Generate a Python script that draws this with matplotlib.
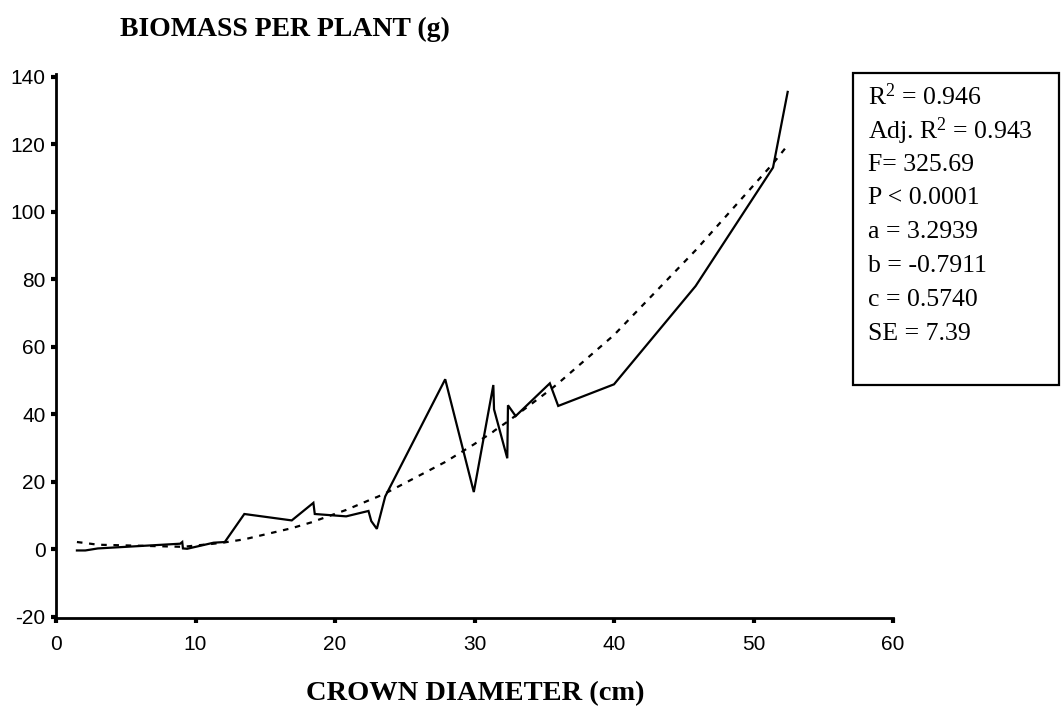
import matplotlib
matplotlib.use('Agg')
import matplotlib.pyplot as plt
from matplotlib.patches import Rectangle

diameter = [1.5, 2.1, 3.0, 8.9, 9.05, 9.1, 9.4, 11.3, 12.1, 13.5, 16.9, 18.45,
            18.55, 20.8, 22.4, 22.6, 23.0, 23.6, 27.9, 29.95, 31.35, 31.4,
            32.35, 32.4, 32.95, 35.4, 36.0, 40.0, 45.85, 51.4, 52.45]
biomass = [-0.3, -0.3, 0.3, 1.7, 2.2, 0.3, 0.2, 2.0, 2.2, 10.5, 8.6, 13.8,
           10.5, 9.8, 11.4, 8.4, 6.1, 15.7, 50.4, 17.0, 48.7, 41.5,
           27.0, 42.7, 39.5, 49.2, 42.5, 48.9, 78.0, 113.1, 135.5]
# fitted values (dashed line)
fitted = [2.2, 1.9, 1.4, 0.8, 0.8, 0.8, 0.9, 1.7, 2.1, 3.0, 6.3, 8.2,
          8.4, 11.7, 14.5, 14.9, 15.5, 16.6, 25.9, 31.1, 34.9, 35.1,
          37.8, 38.0, 39.6, 47.2, 49.2, 63.5, 88.6, 114.3, 119.7]

x_ticks = [0, 10, 20, 30, 40, 50, 60]
y_ticks = [-20, 0, 20, 40, 60, 80, 100, 120, 140]

stats = [r'R$^{\mathregular{2}}$ = 0.946',
         r'Adj. R$^{\mathregular{2}}$ = 0.943',
         'F= 325.69',
         'P < 0.0001',
         'a = 3.2939',
         'b = -0.7911',
         'c = 0.5740',
         'SE = 7.39']

plt.rcParams['mathtext.default'] = 'regular'
plt.rcParams['axes.unicode_minus'] = False

W, H = 1061, 715
fig = plt.figure(figsize=(W / 100, H / 100), dpi=100)
ax = fig.add_axes([56 / W, 1 - 618 / H, 837 / W, 544 / H])

ax.plot(diameter, biomass, color='black', lw=1.6, solid_joinstyle='miter')
ax.plot(diameter, fitted, color='black', lw=1.6, dashes=(2.5, 3))

ax.set_xlim(0, 60)
ax.set_ylim(-20.3, 140.8)
ax.set_xticks(x_ticks)
ax.set_yticks(y_ticks)

for s in ['top', 'right']:
    ax.spines[s].set_visible(False)
for s in ['left', 'bottom']:
    ax.spines[s].set_linewidth(2)

ax.tick_params(direction='out', length=3.5, width=3, labelsize=15)
ax.tick_params(axis='x', pad=9)
ax.tick_params(axis='y', pad=4)
for lab in ax.get_xticklabels() + ax.get_yticklabels():
    lab.set_family('Liberation Sans')

serif = 'Liberation Serif'
fig.text(120 / W, 1 - 29 / H, 'BIOMASS PER PLANT (g)', family=serif,
         weight='bold', fontsize=20, ha='left', va='center')
fig.text(475 / W, 1 - 694 / H, 'CROWN DIAMETER (cm)', family=serif,
         weight='bold', fontsize=20.5, ha='center', va='center')

# statistics box
box = Rectangle((853 / W, 1 - 385 / H), 206 / W, 312 / H,
                transform=fig.transFigure, fill=False, lw=1.6, ec='black')
fig.patches.append(box)
for i, line in enumerate(stats):
    fig.text(868 / W, 1 - (97 + 33.8 * i) / H, line, family=serif,
             fontsize=18.5, ha='left', va='center')

fig.savefig('out.png', dpi=100)
